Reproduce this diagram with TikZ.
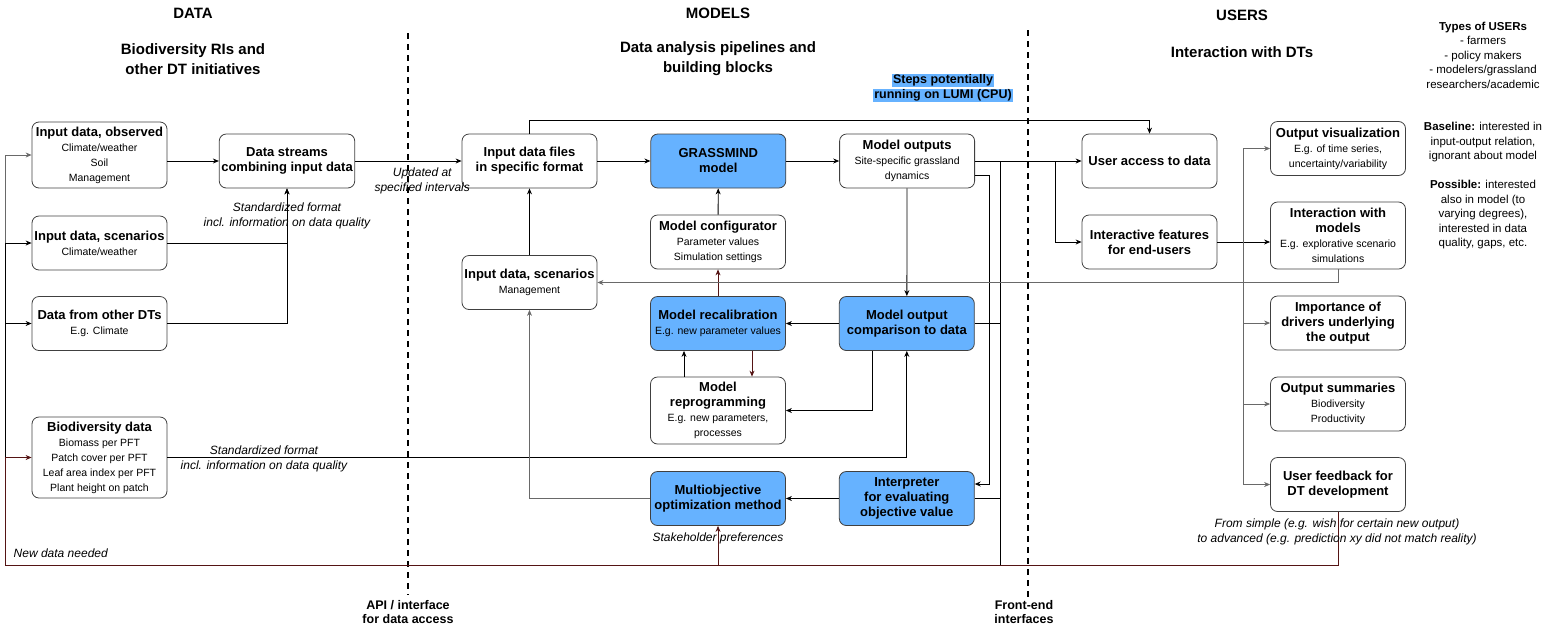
\documentclass[tikz,border=0pt]{standalone}
\usepackage{fontspec}
\setmainfont{Liberation Sans}
\usetikzlibrary{arrows.meta,positioning}

\definecolor{blbox}{RGB}{102,178,255}
\definecolor{dkred}{RGB}{85,20,20}
\definecolor{lgray}{RGB}{105,105,105}

\newcommand{\detail}{\mdseries\fontsize{10.5}{12.7}\selectfont}
\setlength{\fboxsep}{1pt}

\tikzset{
  box/.style={draw=black!75, rounded corners=7pt, minimum width=135pt, minimum height=54pt,
    align=center, inner sep=2pt, font=\bfseries\fontsize{13}{15}\selectfont},
  blu/.style={box, fill=blbox},
  head/.style={align=center, font=\bfseries\fontsize{15}{20}\selectfont},
  note/.style={align=center, font=\itshape\fontsize{12}{15}\selectfont},
  side/.style={align=center, font=\fontsize{11.5}{14.5}\selectfont},
  sep/.style={line width=2pt, dash pattern=on 6pt off 5pt}
}

\begin{document}
\begin{tikzpicture}[x=1pt,y=-1pt,line width=0.8pt,>={Stealth[length=6pt,width=5pt]}]
  \useasboundingbox (0,0) rectangle (1550,633);

  \node[head] (hdata) at (193,13) {DATA};
  \node[head] (hdatasub) at (193,59) {Biodiversity RIs and\\other DT initiatives};
  \node[head] (hmodels) at (718,13) {MODELS};
  \node[head] (hmodelssub) at (718,59) {Data analysis pipelines and\\building blocks};
  \node[head] (husers) at (1242,15) {USERS};
  \node[head] (huserssub) at (1242,52) {Interaction with DTs};
  \node[font=\bfseries\fontsize{12.5}{15}\selectfont, align=center] (lumi) at (943,88)
    {\colorbox{blbox}{Steps potentially}\\\colorbox{blbox}{running on LUMI (CPU)}};

  \draw[sep] (408,33) -- (408,595);
  \draw[sep] (1028,30) -- (1028,597);
  \node[head, font=\bfseries\fontsize{12.5}{14}\selectfont] (api) at (408,612) {API / interface\\for data access};
  \node[head, font=\bfseries\fontsize{12.5}{14}\selectfont] (front) at (1024,612) {Front-end\\interfaces};

  \node[box, minimum height=66pt] (obs) at (99.5,155) {Input data, observed\\\detail Climate/weather\\\detail Soil\\\detail Management};
  \node[box] (scnclim) at (99.5,243) {Input data, scenarios\\\detail Climate/weather};
  \node[box] (otherdt) at (99.5,323.5) {Data from other DTs\\\detail E.g. Climate};
  \node[box, minimum height=81pt] (biodata) at (99.5,457.5) {Biodiversity data\\\detail Biomass per PFT\\\detail Patch cover per PFT\\\detail Leaf area index per PFT\\\detail Plant height on patch};
  \node[box] (dstream) at (287,161) {Data streams\\combining input data};

  \node[box] (files) at (529.5,161) {Input data files\\in specific format};
  \node[blu] (grass) [right=53pt of files] {GRASSMIND\\model};
  \node[box] (outputs) [right=53pt of grass] {Model outputs\\\detail Site-specific grassland\\\detail dynamics};
  \node[box] (config) at (718,242) {Model configurator\\\detail Parameter values\\\detail Simulation settings};
  \node[box] (mgmt) at (529.5,282.5) {Input data, scenarios\\\detail Management};
  \node[blu] (recal) at (718,323.5) {Model recalibration\\\detail E.g. new parameter values};
  \node[blu] (compare) [right=53pt of recal] {Model output\\comparison to data};
  \node[box, minimum height=67pt] (reprog) at (718,410.5) {Model\\reprogramming\\\detail E.g. new parameters,\\\detail processes};
  \node[blu] (multi) at (718,498.5) {Multiobjective\\optimization method};
  \node[blu] (interp) [right=53pt of multi] {Interpreter\\for evaluating\\objective value};

  \node[box] (access) at (1149.5,161) {User access to data};
  \node[box] (interact) at (1149.5,242) {Interactive features\\for end-users};
  \node[box] (outvis) at (1338,148.5) {Output visualization\\\detail E.g. of time series,\\\detail uncertainty/variability};
  \node[box, minimum height=67pt] (interwith) at (1338,235.5) {Interaction with\\models\\\detail E.g. explorative scenario\\\detail simulations};
  \node[box] (drivers) at (1338,323) {Importance of\\drivers underlying\\the output};
  \node[box] (summary) at (1338,404) {Output summaries\\\detail Biodiversity\\\detail Productivity};
  \node[box] (feedback) at (1338,484.5) {User feedback for\\DT development};

  \node[side] (types) at (1483,55) {\textbf{Types of USERs}\\- farmers\\- policy makers\\- modelers/grassland\\researchers/academic};
  \node[side] (baseline) at (1483,142.5) {\textbf{Baseline:} interested in\\input-output relation,\\ignorant about model};
  \node[side] (possible) at (1483,215) {\textbf{Possible:} interested\\also in model (to\\varying degrees),\\interested in data\\quality, gaps, etc.};

  \coordinate (loopbl) at (5,565);
  \coordinate (jn) at (1000,161);
  \coordinate (jb) at (1000,565);
  \coordinate (br1) at (1055,161);
  \coordinate (br2) at (1243,242);

  \draw[dkred] (feedback.south) |- (loopbl);
  \draw[->, lgray] (loopbl) |- (obs.west);
  \draw[->] (loopbl) |- (scnclim.west);
  \draw[->] (loopbl) |- (otherdt.west);
  \draw[->, dkred] (loopbl) |- (biodata.west);
  \node[note, anchor=west] (newdata) at (10,553) {New data needed};

  \draw[->] (obs.east |- dstream.west) -- (dstream.west);
  \draw[->] (scnclim.east) -| (dstream.south);
  \draw[->] (otherdt.east) -| (dstream.south);
  \node[note] (stdA) at (287,215.5) {Standardized format\\incl. information on data quality};
  \draw[->] (dstream) -- node[note, pos=0.63, below=3pt] {Updated at\\specified intervals} (files);

  \draw[->] (files) -- (grass);
  \draw[->] (grass) -- (outputs);
  \draw[->] (files.north) -- ++(0,-13) -| (access.north);
  \draw[->] (outputs) -- (access);
  \draw[->] (br1) |- (interact.west);
  \draw[->] ([yshift=-14pt]outputs.east) -- ++(14,0) |- ([yshift=14.5pt]interp.east);
  \draw (jn) -- (jb);
  \draw (compare.east) -- (compare.east -| jn);
  \draw (interp.east) -- (interp.east -| jn);

  \draw[->] (outputs) -- (compare);
  \draw[->] (compare) -- (recal);
  \draw[->] ([xshift=-34.5pt]compare.south) |- (reprog.east);
  \draw[->] (biodata.east) -| (compare.south);
  \node[note] (stdB) at (264,458.5) {Standardized format\\incl. information on data quality};
  \draw[->] ([xshift=-34pt]reprog.north) -- ([xshift=-34pt]recal.south);
  \draw[->, dkred] ([xshift=34pt]recal.south) -- ([xshift=34pt]reprog.north);
  \draw[->, dkred] (recal) -- (config);
  \draw[->] (config) -- (grass);
  \draw[->] (interp) -- (multi);
  \draw[->, lgray] (multi.west) -| (mgmt.south);
  \draw[->] (mgmt) -- (files);
  \draw[->, dkred] (multi.south |- jb) -- (multi.south);
  \node[note] (stake) at (718,538) {Stakeholder preferences};

  \draw[->, lgray] (interwith.south) |- (mgmt.east);
  \draw[->] (interact.east) -- (interact.east -| interwith.west);
  \draw[->, lgray] (br2) |- (outvis.west);
  \draw[->, lgray] (br2) |- (drivers.west);
  \draw[->, lgray] (br2) |- (summary.west);
  \draw[->, lgray] (br2) |- (feedback.west);
  \node[note] (fromsimple) at (1337,531.5) {From simple (e.g. wish for certain new output)\\to advanced (e.g. prediction xy did not match reality)};
\end{tikzpicture}
\end{document}
